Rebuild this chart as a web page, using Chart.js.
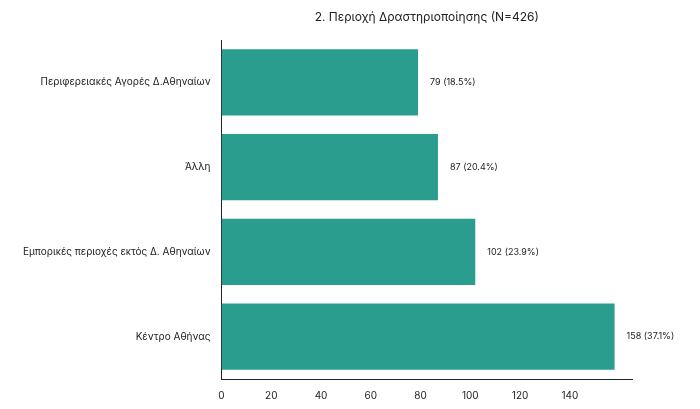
<!DOCTYPE html>
<html><head><meta charset="utf-8">
<script src="https://cdn.jsdelivr.net/npm/chart.js@4"></script>
<style>html,body{margin:0;background:#fff}#wrap{width:700px;height:409px}</style>
</head><body><div id="wrap"><canvas id="c"></canvas></div>
<script>
/* ---- data ---- */
const cats   = ['Περιφερειακές Αγορές Δ.Αθηναίων','Άλλη','Εμπορικές περιοχές εκτός Δ. Αθηναίων','Κέντρο Αθήνας'];
const counts = [79, 87, 102, 158];
const pcts   = ['18.5%','20.4%','23.9%','37.1%'];
const title  = '2. Περιοχή Δραστηριοποίησης (N=426)';

/* ---- value labels + title centred over plot ---- */
const barLabels = {
  id:'barLabels',
  afterDatasetsDraw(ch){
    const ctx = ch.ctx, meta = ch.getDatasetMeta(0), a = ch.chartArea;
    ctx.save();
    ctx.font = '9px Inter, sans-serif';
    ctx.fillStyle = '#222';
    ctx.textBaseline = 'middle';
    meta.data.forEach((b,i)=>ctx.fillText(counts[i]+' ('+pcts[i]+')', b.x+12, b.y));
    ctx.font = '12px Inter, sans-serif';
    ctx.textAlign = 'center';
    ctx.fillText(title, (a.left+a.right)/2, 17);
    ctx.restore();
  }
};

new Chart(document.getElementById('c'),{
  type:'bar',
  data:{labels:cats,datasets:[{data:counts,backgroundColor:'#2a9d8f',categoryPercentage:1,barPercentage:0.78}]},
  options:{
    indexAxis:'y',responsive:true,maintainAspectRatio:false,animation:false,
    layout:{padding:{top:40,right:68,left:20,bottom:4}},
    plugins:{legend:{display:false},tooltip:{enabled:false}},
    scales:{
      x:{min:0,max:165,grid:{display:false},border:{color:'#222'},
         ticks:{stepSize:20,autoSkip:false,color:'#222',font:{family:'Inter',size:10},
                callback:v=>v%20===0&&v<=160?v:''}},
      y:{grid:{display:false},border:{color:'#222'},
         ticks:{color:'#222',font:{family:'Inter',size:10}}}
    }
  },
  plugins:[barLabels]
});
</script></body></html>
